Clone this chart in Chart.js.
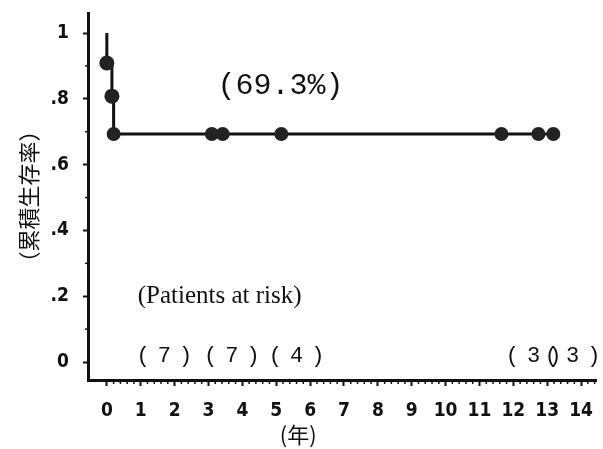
<!DOCTYPE html>
<html>
<head>
<meta charset="utf-8">
<script src="https://cdn.jsdelivr.net/npm/chart.js@4/dist/chart.umd.min.js"></script>
<style>
  html, body { margin: 0; padding: 0; background: #fff; }
  #wrap { width: 603px; height: 449px; }
</style>
</head>
<body>
<div id="wrap"><canvas id="myChart" width="603" height="449"></canvas></div>
<script>
// Kaplan-Meier curve (years, cumulative survival)
const times = [0, 0, 0.15, 0.2, 3.1, 3.42, 5.15, 11.65, 12.74, 13.18];
const survival = [1, 0.909, 0.808, 0.693, 0.693, 0.693, 0.693, 0.693, 0.693, 0.693];
const plateau = 0.693;

// patients at risk row
const riskTimes = [1.7, 3.69, 5.6, 12.6, 13.75];
const riskCounts = [7, 7, 4, 3, 3];

// axis ticks
const xTicks = [0, 1, 2, 3, 4, 5, 6, 7, 8, 9, 10, 11, 12, 13, 14];
const yTicks = [0, 0.2, 0.4, 0.6, 0.8, 1];
const yTickLabels = ['0', '.2', '.4', '.6', '.8', '1'];

const ink = '#111';
const tickFont = { family: "'Liberation Sans Narrow', 'DejaVu Sans Condensed', sans-serif", size: 19, weight: 'bold' };

const ctx = document.getElementById('myChart').getContext('2d');

// minor ticks + text annotations
const extras = {
    id: 'extras',
    afterDraw(chart) {
        const c = chart.ctx;
        const x = chart.scales.x;
        const y = chart.scales.y;
        c.save();
        c.strokeStyle = ink;
        c.lineWidth = 1.5;
        // minor x ticks every 0.2 year
        for (let i = 1; i <= 72; i++) {
            if (i % 5 === 0) continue;
            const px = x.getPixelForValue(i / 5);
            c.beginPath();
            c.moveTo(px, x.top);
            c.lineTo(px, x.top + 4);
            c.stroke();
        }
        // minor y ticks
        for (let i = 1; i < 10; i += 2) {
            const py = y.getPixelForValue(i / 10);
            c.beginPath();
            c.moveTo(y.right - 3, py);
            c.lineTo(y.right, py);
            c.stroke();
        }

        c.fillStyle = ink;
        c.textAlign = 'center';
        c.textBaseline = 'middle';

        c.font = "30px 'Liberation Mono', monospace";
        c.fillText(`(${(plateau * 100).toFixed(1)}%)`, x.getPixelForValue(5.13), y.getPixelForValue(0.84));

        c.textAlign = 'left';
        c.font = "25px 'Liberation Serif', serif";
        c.fillText('(Patients at risk)', x.getPixelForValue(0.91), y.getPixelForValue(0.198));

        c.textAlign = 'center';
        c.font = "22px 'Liberation Mono', monospace";
        c.letterSpacing = '8px';
        riskTimes.forEach((t, i) => {
            c.fillText(`(${riskCounts[i]})`, x.getPixelForValue(t) + 4, y.getPixelForValue(0.018));
        });
        c.letterSpacing = '0px';

        c.font = "22px 'Noto Sans CJK JP', sans-serif";
        c.fillText('(年)', x.getPixelForValue(5.65), 435);
        c.restore();
    }
};

const config = {
    type: 'line',
    data: {
        datasets: [{
            label: 'survival',
            data: times.map((t, i) => ({ x: t, y: survival[i] })),
            borderColor: ink,
            borderWidth: 3,
            stepped: 'before',
            fill: false,
            pointRadius: (c) => c.dataIndex === 0 ? 0 : (c.dataIndex < 3 ? 7.5 : 7),
            pointBackgroundColor: '#222',
            pointBorderColor: '#222',
            pointBorderWidth: 0
        }]
    },
    options: {
        responsive: false,
        animation: false,
        layout: { padding: { top: 13, right: 2, left: 0, bottom: 0 } },
        plugins: {
            legend: { display: false },
            tooltip: { enabled: false }
        },
        scales: {
            x: {
                type: 'linear',
                min: -0.556,
                max: 14.44,
                afterBuildTicks: (s) => { s.ticks = xTicks.map(v => ({ value: v })); },
                afterFit: (s) => { s.height = 69; s.paddingLeft = 0; s.paddingRight = 0; },
                ticks: { color: ink, font: tickFont, padding: 14, maxRotation: 0, autoSkip: false },
                grid: { drawOnChartArea: false, tickLength: 6, tickWidth: 2, tickColor: ink },
                border: { display: true, color: ink, width: 3 }
            },
            y: {
                min: -0.0547,
                max: 1.0608,
                afterBuildTicks: (s) => { s.ticks = yTicks.map(v => ({ value: v })); },
                afterFit: (s) => { s.width = 88; s.paddingTop = 0; s.paddingBottom = 0; },
                ticks: {
                    color: ink, font: tickFont, padding: 14, autoSkip: false,
                    callback: (v) => yTickLabels[yTicks.indexOf(v)] ?? ''
                },
                grid: { drawOnChartArea: false, tickLength: 5, tickWidth: 2, tickColor: ink },
                border: { display: true, color: ink, width: 3 },
                title: {
                    display: true,
                    text: '（累積生存率）',
                    color: ink,
                    font: { family: "'Noto Sans CJK JP', sans-serif", size: 22 },
                    padding: { top: 15, bottom: 0 }
                }
            }
        }
    },
    plugins: [extras]
};

const myChart = new Chart(ctx, config);
</script>
</body>
</html>
